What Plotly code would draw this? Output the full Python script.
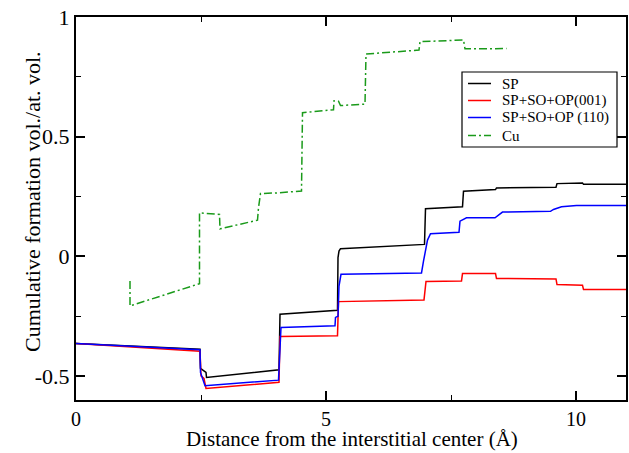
import plotly.graph_objects as go

# Cumulative formation volume vs. distance from the interstitial center
sp_x = [0, 2.48, 2.49, 2.60, 2.61, 4.06, 4.08, 5.23, 5.24, 5.26, 5.29, 6.97, 6.99,
        7.73, 7.75, 8.39, 8.41, 9.60, 9.62, 10.13, 10.15, 11.0]
sp_y = [-0.364, -0.388, -0.468, -0.485, -0.506, -0.474, -0.242, -0.225, -0.005,
        0.022, 0.032, 0.050, 0.199, 0.207, 0.272, 0.279, 0.286, 0.289, 0.304,
        0.307, 0.301, 0.301]

so001_x = [0, 2.48, 2.50, 2.56, 2.60, 4.06, 4.08, 5.23, 5.25, 6.96, 7.00, 7.71,
           7.73, 8.39, 8.41, 9.60, 9.62, 10.13, 10.15, 11.0]
so001_y = [-0.364, -0.396, -0.499, -0.510, -0.552, -0.526, -0.335, -0.332, -0.189,
           -0.182, -0.105, -0.103, -0.072, -0.072, -0.092, -0.094, -0.118, -0.121,
           -0.138, -0.138]

so110_x = [0, 2.48, 2.49, 2.58, 4.05, 4.07, 4.10, 5.18, 5.19, 5.24, 5.26, 5.30,
           6.91, 6.95, 7.00, 7.03, 7.09, 7.66, 7.68, 7.81, 8.38, 8.45, 8.53, 9.49,
           9.55, 9.71, 10.01, 11.0]
so110_y = [-0.364, -0.390, -0.485, -0.540, -0.517, -0.400, -0.297, -0.290, -0.255,
           -0.250, -0.124, -0.075, -0.069, -0.020, 0.030, 0.068, 0.095, 0.101,
           0.147, 0.161, 0.161, 0.171, 0.185, 0.188, 0.196, 0.207, 0.2125, 0.2125]

cu_x = [1.08, 1.08, 2.47, 2.47, 2.87, 2.88, 3.63, 3.65, 3.69, 4.01, 4.51, 4.53,
        5.15, 5.16, 5.25, 5.29, 5.78, 5.80, 6.86, 6.88, 7.75, 7.78, 8.61]
cu_y = [-0.103, -0.207, -0.114, 0.182, 0.175, 0.115, 0.151, 0.203, 0.2625, 0.265,
        0.273, 0.600, 0.6125, 0.650, 0.648, 0.630, 0.636, 0.845, 0.862, 0.897,
        0.904, 0.867, 0.868]

series_names = ["SP", "SP+SO+OP(001)", "SP+SO+OP (110)", "Cu"]

x_ticks = [0, 5, 10]
y_ticks = [-0.5, 0, 0.5, 1]
y_tick_text = ["-0.5", "0", "0.5", "1"]

FONT = "Liberation Serif, Times New Roman, serif"
W, H = 629, 453
ML, MR, MT, MB = 76, 3, 17, 53
PW, PH = W - ML - MR, H - MT - MB


def px_x(px):
    """Pixel column -> paper x."""
    return (px - ML) / PW


def px_y(py):
    """Pixel row -> paper y."""
    return (H - MB - py) / PH


styles = [
    dict(color="black", width=1.5),
    dict(color="#ff0000", width=1.5),
    dict(color="#0000ff", width=1.5),
    dict(color="#1a9a1a", width=1.5, dash="8px,3px,2px,3px"),
]
xs = [sp_x, so001_x, so110_x, cu_x]
ys = [sp_y, so001_y, so110_y, cu_y]

fig = go.Figure()
for name, x, y, st in zip(series_names, xs, ys, styles):
    fig.add_trace(go.Scatter(x=x, y=y, mode="lines", name=name, line=st,
                             showlegend=False))

axis_common = dict(
    showline=True, linecolor="black", linewidth=2, mirror="allticks",
    ticks="inside", ticklen=9, tickwidth=1.5, tickcolor="black",
    showgrid=False, zeroline=False, automargin=False,
)

fig.update_xaxes(
    range=[0, 11], tickvals=x_ticks,
    tickfont=dict(family=FONT, size=20, color="black"),
    minor=dict(ticks="inside", ticklen=5, tickwidth=1, tickcolor="black", dtick=2.5,
               tick0=0, showgrid=False),
    **axis_common,
)
fig.update_yaxes(
    range=[-0.6, 1], tickvals=y_ticks, ticktext=y_tick_text,
    tickfont=dict(family=FONT, size=22, color="black"),
    minor=dict(ticks="inside", ticklen=5, tickwidth=1, tickcolor="black", dtick=0.25,
               tick0=0, showgrid=False),
    **axis_common,
)

# axis titles as annotations so the plot area stays fixed
annotations = [
    dict(text="Cumulative formation vol./at. vol.", textangle=-90,
         xref="paper", yref="paper", x=px_x(32), y=px_y(202),
         xanchor="center", yanchor="middle", showarrow=False,
         font=dict(family=FONT, size=22, color="black")),
    dict(text="Distance from the interstitial center (Å)",
         xref="paper", yref="paper", x=px_x(352), y=px_y(439),
         xanchor="center", yanchor="middle", showarrow=False, borderpad=0,
         font=dict(family=FONT, size=21, color="black")),
]

# boxed legend in the upper right of the plot area
box_l, box_r, box_t, box_b = 462, 617, 72, 147
row_y = [83.5, 100.5, 117.5, 135.5]
shapes = [dict(type="rect", xref="paper", yref="paper",
               x0=px_x(box_l), x1=px_x(box_r), y0=px_y(box_b), y1=px_y(box_t),
               line=dict(color="black", width=1.2), fillcolor="white", layer="above")]
for name, st, ry in zip(series_names, styles, row_y):
    shapes.append(dict(type="line", xref="paper", yref="paper",
                       x0=px_x(468), x1=px_x(491), y0=px_y(ry), y1=px_y(ry),
                       line=st, layer="above"))
    annotations.append(dict(text=name, xref="paper", yref="paper",
                            x=px_x(500), y=px_y(ry), xanchor="left", yanchor="middle",
                            showarrow=False,
                            font=dict(family=FONT, size=15, color="black")))

fig.update_layout(
    width=W, height=H,
    margin=dict(l=ML, r=MR, t=MT, b=MB),
    paper_bgcolor="white", plot_bgcolor="white",
    showlegend=False,
    shapes=shapes,
    annotations=annotations,
)

fig.write_html("out.html")
